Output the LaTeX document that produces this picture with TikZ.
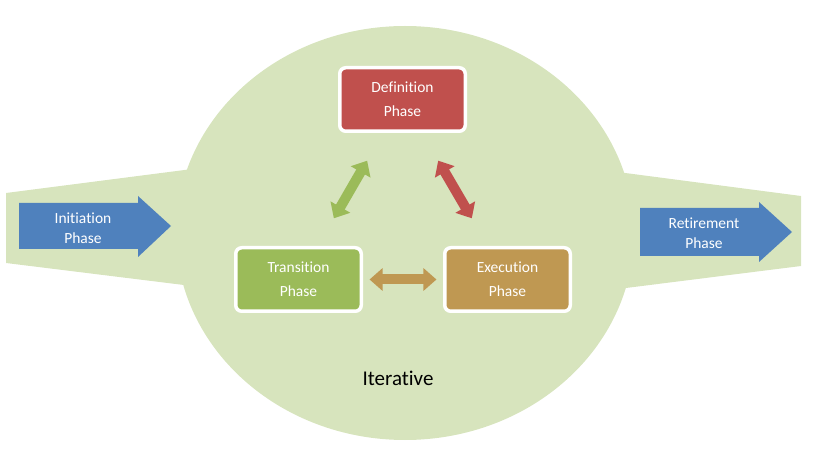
\documentclass[tikz,border=0pt]{standalone}
\usepackage{fontspec}
\setmainfont{Carlito}[Ligatures=NoCommon]
\usetikzlibrary{arrows.meta,calc}

\definecolor{lightgreen}{RGB}{215,228,189}
\definecolor{phasered}{RGB}{192,80,77}
\definecolor{phasegreen}{RGB}{155,187,89}
\definecolor{phasetan}{RGB}{191,152,82}
\definecolor{phaseblue}{RGB}{79,129,189}

\tikzset{
	phasebox/.style={draw=white, line width=3.5pt, rounded corners=6pt,
		minimum width=125.5pt, minimum height=63.5pt, align=center,
		text=white, font=\fontsize{15.5}{24}\selectfont},
	linkarrow/.style={line width=10pt,
		{Triangle[length=13pt,width=22pt]}-{Triangle[length=13pt,width=22pt]}},
	blocklabel/.style={align=center, text=white, font=\fontsize{15.5}{20}\selectfont}
}

\begin{document}
\begin{tikzpicture}[x=1pt, y=-1pt]
			\useasboundingbox (0,0) rectangle (814,454);
			% funnel and loop area
			\fill[lightgreen] (6,193) -- (200,168) -- (200,287) -- (6,263) -- cycle;
			\fill[lightgreen] (610,171) -- (801,196) -- (801,266) -- (610,290) -- cycle;
			\fill[lightgreen] (405,233) ellipse [x radius=229pt, y radius=207pt];
			% entry and exit
			\fill[phaseblue] (19,203) -- (138,203) -- (138,196) -- (171,226)
				-- (138,257) -- (138,249) -- (19,249) -- cycle;
			\node[blocklabel] (init) at (83,228) {Initiation\\Phase};
			\fill[phaseblue] (640,208) -- (759,208) -- (759,202) -- (792,232)
				-- (759,262) -- (759,256) -- (640,256) -- cycle;
			\node[blocklabel] (retire) at (704,233) {Retirement\\Phase};
			% phases
			\node[phasebox, fill=phasered] (defi) at (402.5,99.5) {Definition\\Phase};
			\node[phasebox, fill=phasegreen] (tran) at (298.5,279.5) {Transition\\Phase};
			\node[phasebox, fill=phasetan] (exec) at (507.5,279.5) {Execution\\Phase};
			\draw[linkarrow, phasegreen] ($(tran)!0.34!(defi)$) -- ($(tran)!0.66!(defi)$);
			\draw[linkarrow, phasered] ($(defi)!0.34!(exec)$) -- ($(defi)!0.66!(exec)$);
			\draw[linkarrow, phasetan] ($(tran)!0.34!(exec)$) -- ($(tran)!0.66!(exec)$);
			\node[font=\fontsize{21}{24}\selectfont] (iter) at (398,378) {Iterative};
		\end{tikzpicture}
\end{document}
